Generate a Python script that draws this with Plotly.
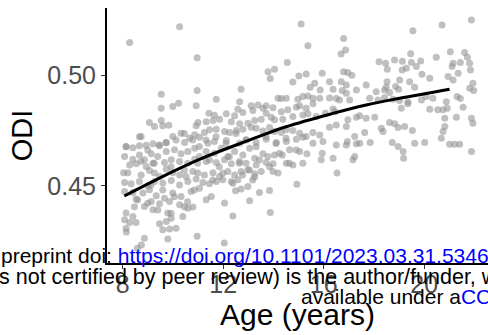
import plotly.graph_objects as go

# Individual participant measurements: age (years) and ODI
age = [
    10.26, 8.27, 15.10, 21.88, 20.71, 19.55, 16.79,
    15.37, 16.87, 16.69, 10.96, 21.04, 21.61, 19.46, 21.72, 20.48, 18.20, 18.46,
    18.82, 19.13, 19.86, 19.49, 14.55, 21.15, 21.44, 21.81, 21.11, 19.69,
    13.78, 14.04, 13.87, 15.30, 15.01, 15.94, 14.77, 15.64, 16.23, 16.79, 16.96,
    17.12, 16.70, 16.90, 18.53, 19.12, 19.29, 19.91, 20.22, 21.84, 21.35, 20.95,
    21.15, 21.94, 17.69, 18.52, 18.86, 19.02, 19.42, 18.49,
    9.53, 10.96, 12.71, 15.46, 15.86, 16.37, 16.74, 16.90, 17.30, 18.09, 18.42,
    18.62, 18.98, 19.62, 21.81, 21.97, 20.35, 20.88, 21.31, 21.44, 14.18, 14.31,
    14.51, 14.97, 15.17, 15.37, 15.57, 15.84, 16.23, 16.50, 16.63, 17.03, 17.83,
    18.16, 18.42, 18.76, 19.02, 19.35, 19.89, 20.08, 12.65, 13.38, 13.71, 11.72,
    10.22, 9.99, 9.53, 10.92, 12.58, 13.11,
    11.43, 11.65, 12.12, 12.45, 12.78, 13.18, 13.58, 13.98, 14.31, 14.57, 14.91,
    15.04, 15.30, 15.57, 16.37, 16.45, 17.43, 17.69, 18.03, 18.62, 18.82, 19.09,
    19.35, 20.54, 20.75, 20.92, 20.22, 21.55, 21.28, 21.88, 20.82, 21.94, 9.06,
    9.53, 9.26, 9.83, 9.59, 10.92, 10.99, 11.32, 11.59, 11.85, 12.32, 12.65,
    12.98, 13.25, 13.51, 13.71, 13.91, 14.04, 14.37, 14.77, 15.17, 15.37, 15.70,
    16.07, 16.96, 17.30, 18.29, 18.96, 19.22, 19.53, 20.82,
    8.73, 8.13, 8.40, 8.66, 8.93, 9.20, 9.46, 9.73, 9.99, 10.32, 10.46, 10.66,
    10.86, 11.05, 11.25, 11.45, 11.72, 12.05, 12.25, 12.52, 12.78, 13.11, 13.31,
    13.58, 13.84, 14.04, 14.31, 14.51, 14.77, 15.04, 15.30, 15.57, 15.84, 16.23,
    16.50, 16.90, 17.23, 17.63, 17.85, 17.43, 17.30, 16.90, 16.94, 16.50, 18.36,
    18.73, 19.62, 20.02, 20.75, 20.68, 21.01, 21.21, 21.41, 11.05, 11.39, 11.65,
    12.12, 12.65, 12.91, 13.31, 13.71, 14.11, 14.51, 14.91, 15.17, 15.57, 15.97,
    8.07, 8.40, 8.66, 8.86, 9.13, 9.39, 9.73, 10.06, 10.32, 10.59, 10.86, 11.05,
    11.32, 11.65, 11.92, 12.18, 12.45, 12.78, 13.05, 13.25, 13.58, 13.78, 14.04,
    14.35, 14.64, 15.04, 15.33, 15.94, 16.37, 15.90, 15.17, 14.77, 14.51, 18.96,
    19.16, 19.18, 17.23, 17.16, 21.88, 8.27, 8.53, 8.93, 9.20, 9.66, 9.93, 10.26,
    10.59, 10.86, 11.32, 11.72, 12.05, 12.32, 12.65, 12.91, 13.31, 13.71, 13.98,
    8.03, 8.20, 8.73, 9.06, 9.26, 9.46, 9.73, 9.99, 10.26, 10.52, 10.79, 10.99,
    11.25, 11.59, 11.85, 12.18, 12.45, 12.71, 12.98, 13.25, 13.51, 13.98, 14.18,
    16.53, 8.07, 8.33, 8.66, 9.00, 9.26, 9.59, 9.93, 10.26, 10.59, 10.92, 11.19,
    11.45, 11.72, 11.98, 12.32, 12.58, 12.98, 13.25, 13.84, 14.93, 12.71, 12.49,
    13.44, 11.52,
    8.07, 8.40, 8.80, 9.06, 9.33, 9.66, 9.99, 10.32, 10.72, 11.05, 11.32, 9.13,
    9.46, 9.86, 10.26, 10.59, 10.79, 12.05, 13.05, 8.53, 8.86, 9.20, 8.13, 8.40,
    9.79, 9.93, 10.39, 13.87, 12.38,
    8.07, 8.27, 8.13, 8.53, 9.46, 9.73, 9.86, 10.12, 9.59, 8.86, 9.79, 10.96,
    8.14, 8.74, 8.58, 12.04,
    8.13, 8.66, 8.99, 9.45, 9.72, 10.12, 10.45, 10.78, 8.72, 9.25, 9.92, 10.45,
    10.98, 9.12, 9.59, 10.05, 10.58, 8.99, 9.39, 9.92, 10.45, 10.85, 8.59, 8.46,
    11.31, 11.71, 12.11, 12.51, 12.91, 13.31, 13.70, 14.10, 14.50, 14.90, 11.45,
    11.84, 12.24, 12.64, 13.04, 13.44, 13.84, 14.24, 14.63, 11.58, 11.98, 12.38,
    12.77, 13.17,
]
odi = [
    0.5218, 0.5147, 0.5230, 0.5248, 0.5225, 0.5200, 0.5165,
    0.5132, 0.5113, 0.5095, 0.5078, 0.5105, 0.5101, 0.5096, 0.5080, 0.5080, 0.5060, 0.5053,
    0.5068, 0.5062, 0.5063, 0.5056, 0.5056, 0.5053, 0.5056, 0.5053, 0.5038, 0.5038,
    0.5015, 0.5026, 0.4984, 0.5005, 0.4996, 0.5008, 0.4969, 0.4963, 0.4970, 0.5015, 0.5011,
    0.4999, 0.4970, 0.4955, 0.5026, 0.5023, 0.5030, 0.5003, 0.4985, 0.5023, 0.5008, 0.4993,
    0.4978, 0.4963, 0.4955, 0.4970, 0.4948, 0.4978, 0.4970, 0.4945,
    0.4913, 0.4930, 0.4936, 0.4945, 0.4933, 0.4936, 0.4930, 0.4918, 0.4933, 0.4925, 0.4933,
    0.4921, 0.4936, 0.4945, 0.4940, 0.4930, 0.4895, 0.4880, 0.4903, 0.4894, 0.4895, 0.4894,
    0.4895, 0.4891, 0.4903, 0.4906, 0.4895, 0.4895, 0.4897, 0.4894, 0.4888, 0.4888, 0.4895,
    0.4888, 0.4898, 0.4891, 0.4885, 0.4879, 0.4888, 0.4903, 0.4880, 0.4865, 0.4861, 0.4891,
    0.4873, 0.4858, 0.4850, 0.4861, 0.4846, 0.4861,
    0.4828, 0.4819, 0.4825, 0.4816, 0.4831, 0.4840, 0.4850, 0.4852, 0.4835, 0.4843, 0.4855,
    0.4861, 0.4850, 0.4870, 0.4847, 0.4835, 0.4816, 0.4805, 0.4810, 0.4786, 0.4780, 0.4850,
    0.4870, 0.4843, 0.4843, 0.4850, 0.4846, 0.4855, 0.4810, 0.4805, 0.4805, 0.4783, 0.4786,
    0.4795, 0.4768, 0.4774, 0.4771, 0.4771, 0.4786, 0.4789, 0.4795, 0.4801, 0.4790, 0.4780,
    0.4783, 0.4795, 0.4801, 0.4828, 0.4810, 0.4798, 0.4801, 0.4813, 0.4820, 0.4825, 0.4813,
    0.4828, 0.4798, 0.4810, 0.4760, 0.4763, 0.4768, 0.4750, 0.4768,
    0.4723, 0.4678, 0.4672, 0.4681, 0.4684, 0.4690, 0.4681, 0.4696, 0.4723, 0.4738, 0.4696, 0.4716,
    0.4731, 0.4720, 0.4741, 0.4753, 0.4756, 0.4745, 0.4741, 0.4750, 0.4756, 0.4765, 0.4760,
    0.4748, 0.4763, 0.4745, 0.4741, 0.4753, 0.4750, 0.4738, 0.4723, 0.4741, 0.4730, 0.4765,
    0.4775, 0.4768, 0.4723, 0.4741, 0.4696, 0.4693, 0.4690, 0.4685, 0.4700, 0.4685, 0.4745,
    0.4696, 0.4693, 0.4696, 0.4745, 0.4715, 0.4688, 0.4688, 0.4688, 0.4678, 0.4693, 0.4700,
    0.4705, 0.4693, 0.4708, 0.4696, 0.4711, 0.4696, 0.4700, 0.4711, 0.4720, 0.4693, 0.4700,
    0.4633, 0.4621, 0.4640, 0.4618, 0.4645, 0.4633, 0.4655, 0.4663, 0.4645, 0.4655, 0.4670, 0.4633,
    0.4655, 0.4648, 0.4670, 0.4633, 0.4655, 0.4640, 0.4670, 0.4625, 0.4645, 0.4633, 0.4640,
    0.4640, 0.4663, 0.4655, 0.4645, 0.4648, 0.4625, 0.4618, 0.4603, 0.4595, 0.4603, 0.4678,
    0.4655, 0.4625, 0.4633, 0.4618, 0.4655, 0.4595, 0.4600, 0.4588, 0.4603, 0.4606, 0.4618, 0.4610,
    0.4603, 0.4621, 0.4610, 0.4606, 0.4618, 0.4600, 0.4610, 0.4603, 0.4595, 0.4606, 0.4600,
    0.4560, 0.4560, 0.4550, 0.4570, 0.4558, 0.4543, 0.4576, 0.4560, 0.4550, 0.4543, 0.4565, 0.4558,
    0.4550, 0.4560, 0.4543, 0.4565, 0.4550, 0.4565, 0.4573, 0.4555, 0.4565, 0.4565, 0.4558,
    0.4558, 0.4516, 0.4510, 0.4520, 0.4501, 0.4520, 0.4513, 0.4525, 0.4505, 0.4520, 0.4531, 0.4516,
    0.4510, 0.4520, 0.4528, 0.4520, 0.4528, 0.4498, 0.4540, 0.4480, 0.4508, 0.4486, 0.4478,
    0.4471, 0.4453,
    0.4475, 0.4471, 0.4468, 0.4483, 0.4456, 0.4445, 0.4468, 0.4453, 0.4475, 0.4490, 0.4438, 0.4430,
    0.4420, 0.4430, 0.4415, 0.4400, 0.4405, 0.4423, 0.4433, 0.4441, 0.4408, 0.4393, 0.4378, 0.4363,
    0.4378, 0.4355, 0.4363, 0.4380, 0.4365,
    0.4348, 0.4335, 0.4310, 0.4335, 0.4330, 0.4340, 0.4306, 0.4310, 0.4303, 0.4265, 0.4261, 0.4273,
    0.4293, 0.4234, 0.4220, 0.4243,
    0.4677, 0.4722, 0.4662, 0.4685, 0.4695, 0.4707, 0.4737, 0.4707, 0.4610, 0.4602, 0.4587, 0.4572,
    0.4602, 0.4505, 0.4482, 0.4452, 0.4429, 0.4422, 0.4392, 0.4377, 0.4407, 0.4482, 0.4437, 0.4407,
    0.4707, 0.4722, 0.4692, 0.4737, 0.4707, 0.4677, 0.4722, 0.4692, 0.4715, 0.4662, 0.4617,
    0.4587, 0.4632, 0.4602, 0.4572, 0.4617, 0.4587, 0.4647, 0.4602, 0.4527, 0.4557, 0.4512,
    0.4550, 0.4527,
]

# Fitted age trajectory
fit_age = [8.06, 9.72, 11.05, 13.04, 14.50, 16.36, 17.69, 19.02, 21.01]
fit_odi = [0.4455, 0.4550, 0.4620, 0.4707, 0.4767, 0.4827, 0.4865, 0.4895, 0.4936]

x_ticks = [8, 12, 16, 20]
y_ticks = [0.45, 0.50]
y_ticklabels = ["0.45", "0.50"]

FONT = "Liberation Sans, Arial, sans-serif"

fig = go.Figure()
fig.add_trace(go.Scatter(
    x=age, y=odi, mode="markers",
    marker=dict(size=7, color="rgba(144,144,144,0.57)", line=dict(width=0)),
    hoverinfo="skip", showlegend=False,
))
fig.add_trace(go.Scatter(
    x=fit_age, y=fit_odi, mode="lines",
    line=dict(color="black", width=3, shape="spline"),
    hoverinfo="skip", showlegend=False,
))

fig.update_layout(
    width=488, height=335,
    margin=dict(l=107, r=0, t=8, b=72),
    paper_bgcolor="white", plot_bgcolor="white",
    font=dict(family=FONT, color="black"),
    xaxis=dict(
        range=[7.37, 22.54], tickvals=x_ticks, ticktext=[str(v) for v in x_ticks],
        showgrid=False, zeroline=False, showline=True, linecolor="black", linewidth=2,
        ticks="outside", ticklen=4, tickcolor="#333333", tickwidth=1,
        ticklabelstandoff=-6,
        tickfont=dict(size=25, color="#4d4d4d", family=FONT),
        title=dict(text="Age (years)", font=dict(size=30, color="black", family=FONT), standoff=4),
        automargin=False,
    ),
    yaxis=dict(
        range=[0.4153, 0.5302], tickvals=y_ticks, ticktext=y_ticklabels,
        showgrid=False, zeroline=False, showline=True, linecolor="black", linewidth=2,
        ticks="outside", ticklen=4, tickcolor="#333333", tickwidth=1,
        tickfont=dict(size=25, color="#4d4d4d", family=FONT),
        title=dict(text="ODI", font=dict(size=29, color="black", family=FONT), standoff=6),
        automargin=False,
    ),
)

# Preprint header lines printed across the lower part of the figure
BLUE = "#0000ff"
notes = [
    ("preprint doi: <span style='color:%s'>https://doi.org/10.1101/2023.03.31.534640</span>" % BLUE,
     -0.2808, 0.0275, 21),
    ("s not certified by peer review) is the author/funder, who has granted bioRxiv a license",
     -0.2861, -0.0549, 21.5),
    ("available under a<span style='color:%s'>CC-BY-NC-ND 4.0 International license</span>" % BLUE,
     0.5066, -0.1333, 21),
]
for text, xp, yp, size in notes:
    fig.add_annotation(
        text=text, xref="paper", yref="paper", x=xp, y=yp,
        xanchor="left", yanchor="middle", showarrow=False,
        font=dict(size=size, color="black", family=FONT), borderpad=0,
    )

fig.write_html("out.html")
